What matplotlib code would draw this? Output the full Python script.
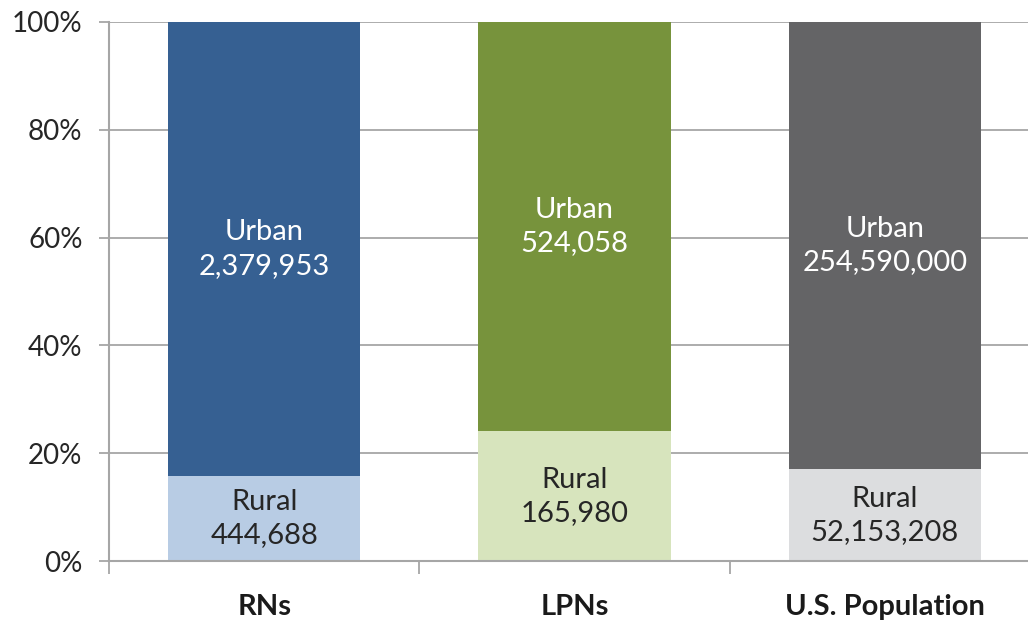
import matplotlib
matplotlib.use("Agg")
import matplotlib.pyplot as plt
import numpy as np

categories = ["RNs", "LPNs", "U.S. Population"]
rural = [444688, 165980, 52153208]
urban = [2379953, 524058, 254590000]
urban_colors = ["#366092", "#77933C", "#646466"]
rural_colors = ["#B8CCE4", "#D7E4BD", "#DCDDDF"]
yticks = [0, 20, 40, 60, 80, 100]

plt.rcParams['font.family'] = ['Lato', 'DejaVu Sans']

fig = plt.figure(figsize=(10.28, 6.22), dpi=100)
W, H = 1028, 622
left, right, top, bottom = 109, 1040, 22, 561
ax = fig.add_axes([left / W, 1 - bottom / H, (right - left) / W, (bottom - top) / H])

rural = np.array(rural, dtype=float)
urban = np.array(urban, dtype=float)
tot = rural + urban
rp = rural / tot * 100
up = urban / tot * 100
x = np.arange(len(categories))
bw = 0.62

ax.set_axisbelow(True)
ax.yaxis.grid(True, color="#A6A6A6", linewidth=1.3)
ax.bar(x, rp, bw, color=rural_colors, zorder=2)
ax.bar(x, up, bw, bottom=rp, color=urban_colors, zorder=2)

fs = 21
for i in range(len(x)):
    ax.text(x[i], rp[i] / 2, f"Rural\n{int(rural[i]):,}", ha="center", va="center",
            color="#262626", fontsize=fs, linespacing=1.35, zorder=3)
    ax.text(x[i], rp[i] + up[i] / 2, f"Urban\n{int(urban[i]):,}", ha="center", va="center",
            color="white", fontsize=fs, linespacing=1.35, zorder=3)

ax.set_xlim(-0.5, len(x) - 0.5)
ax.set_ylim(0, 100)
ax.set_yticks(yticks)
ax.set_yticklabels([f"{v}%" for v in yticks], fontsize=20, color="#262626")
ax.tick_params(axis="y", length=7, width=1.3, color="#A6A6A6", pad=12)

ax.set_xticks(x)
ax.set_xticklabels(categories, fontsize=21, fontweight="bold", color="#1a1a1a")
ax.tick_params(axis="x", length=0, pad=24)
ax.set_xticks(np.arange(len(x) + 1) - 0.5, minor=True)
ax.tick_params(axis="x", which="minor", length=9, width=1.3, color="#A6A6A6", direction="out")

for s in ["top", "right"]:
    ax.spines[s].set_visible(False)
for s in ["left", "bottom"]:
    ax.spines[s].set_color("#A6A6A6")
    ax.spines[s].set_linewidth(1.5)

fig.savefig("out.png", dpi=100)
